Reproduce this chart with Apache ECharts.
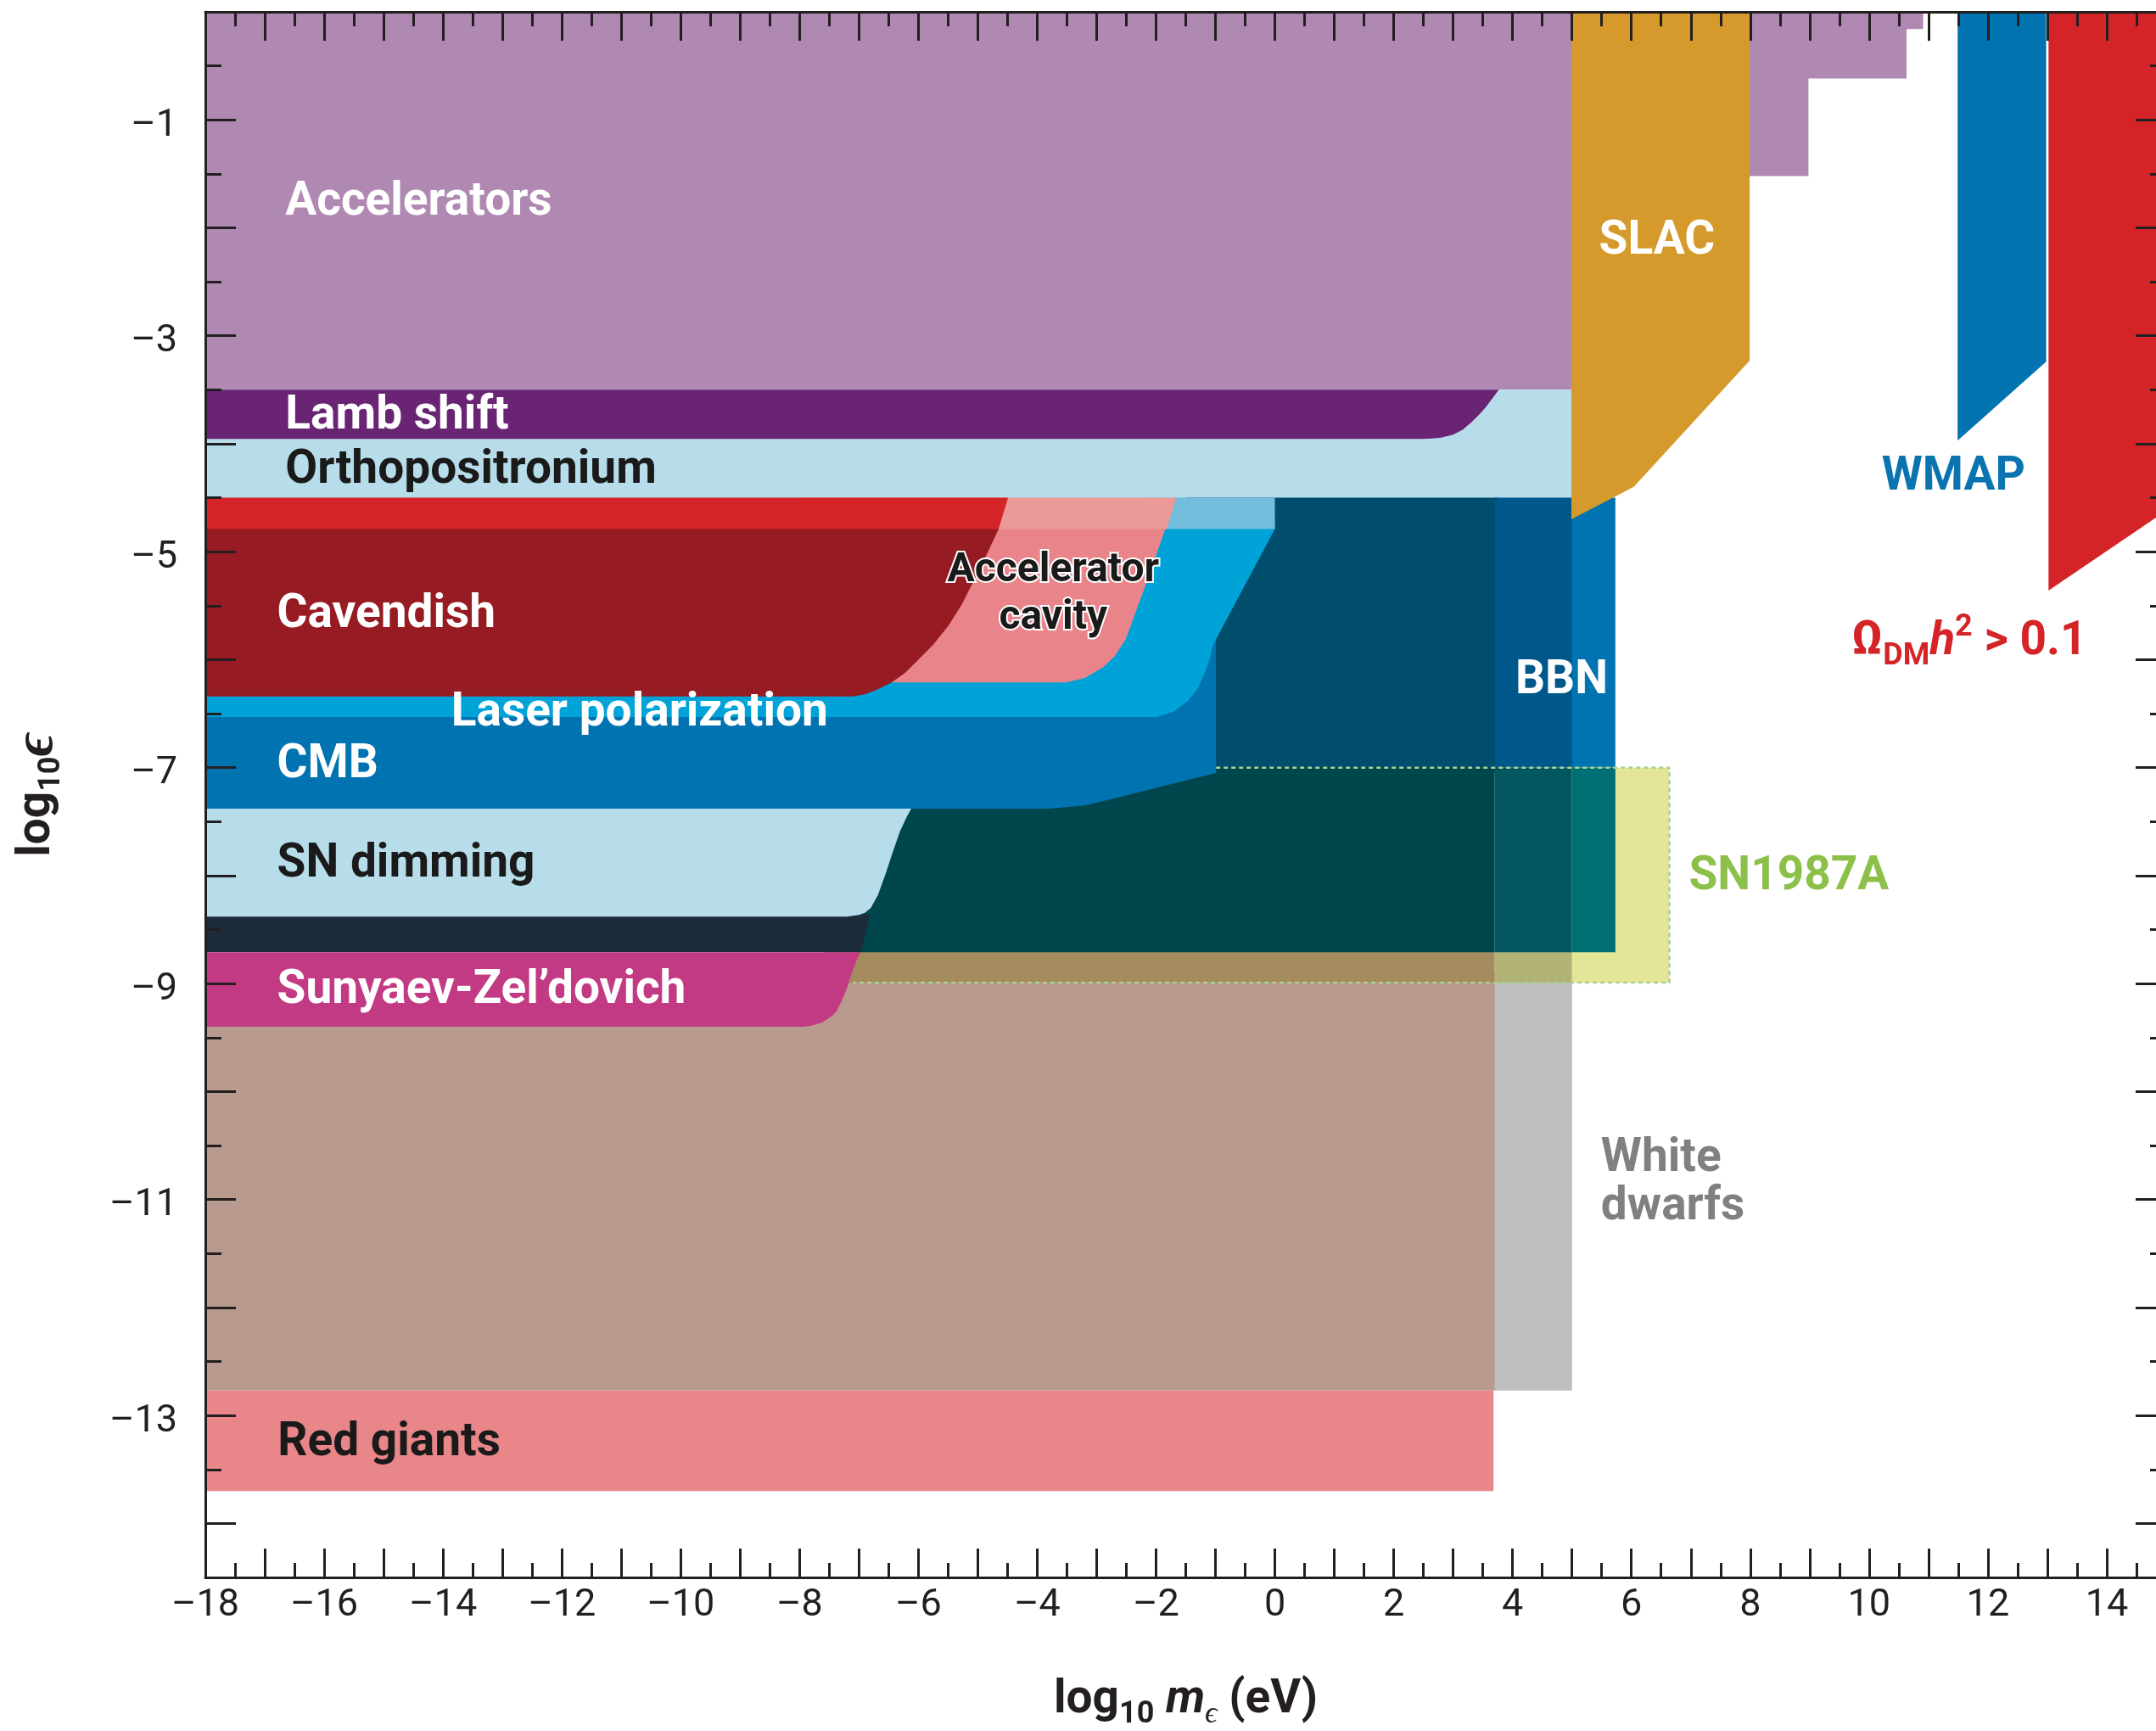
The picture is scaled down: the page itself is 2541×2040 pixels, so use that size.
<!DOCTYPE html>
<html>
<head>
<meta charset="utf-8">
<title>Millicharged particle constraints</title>
<script src="https://cdn.jsdelivr.net/npm/echarts@6/dist/echarts.min.js"></script>
<style>
  html, body { margin: 0; padding: 0; background: #ffffff; }
  #chart { width: 2541px; height: 2040px; }
</style>
</head>
<body>
<div id="chart"></div>
<script>
// Excluded regions in the (log10 m_eps [eV], log10 eps) plane, each as polygon vertices.
const accelerators = [[-18, 0], [10.91, 0], [10.91, -0.16], [10.63, -0.16], [10.63, -0.617], [8.98, -0.617], [8.98, -1.52], [7.9, -1.52], [7.9, -3.1], [5.3, -3.1], [5.3, -3.5], [-18, -3.5]];
const orthopositronium = [[-18, -3.5], [5.0, -3.5], [5.0, -4.52], [-18, -4.52]];
const lambShift = [[-18, -3.5], [3.77, -3.5], [3.66, -3.58], [3.55, -3.66], [3.44, -3.73], [3.31, -3.80], [3.16, -3.87], [3.0, -3.915], [2.8, -3.943], [2.6, -3.953], [2.42, -3.955], [-18, -3.955]];
const bbnDeep = [[-1.5, -4.5], [3.75, -4.5], [3.75, -7.05], [-1.5, -7.05]];
const bbnMid = [[3.7, -4.5], [5.05, -4.5], [5.05, -7.0], [3.7, -7.0]];
const bbnEdge = [[5.0, -4.5], [5.73, -4.5], [5.73, -7.0], [5.0, -7.0]];
const sn1987aEdge = [[5.0, -7.0], [6.64, -7.0], [6.64, -8.99], [5.0, -8.99]];
const sn1987aBox = [[-0.99, -7.0], [6.64, -7.0], [6.64, -8.99], [-7.1, -8.99]];
const combinedStellar = [[-18, -8.9], [3.75, -8.9], [3.75, -12.77], [-18, -12.77]];
const whiteDwarfs = [[3.7, -8.99], [5.0, -8.99], [5.0, -12.77], [3.7, -12.77]];
const sn1987aOverStellar = [[-7.6, -8.7], [3.7, -8.7], [3.7, -8.99], [-7.6, -8.99]];
const sn1987aOverDwarfs = [[3.7, -8.7], [5.0, -8.7], [5.0, -8.99], [3.7, -8.99]];
const sn1987aOverCosmo = [[-7.3, -7.0], [3.7, -7.0], [3.7, -8.71], [-7.3, -8.71]];
const sn1987aOverBbn = [[3.7, -7.0], [5.0, -7.0], [5.0, -8.71], [3.7, -8.71]];
const sn1987aOverBbnEdge = [[5.0, -7.0], [5.73, -7.0], [5.73, -8.71], [5.0, -8.71]];
const redGiants = [[-18, -12.77], [3.68, -12.77], [3.68, -13.70], [-18, -13.70]];
const szOverlap = [[-18, -8.36], [-6.81, -8.36], [-6.96, -8.71], [-18, -8.71]];
const snDimming = [[-18, -7.36], [-6.10, -7.36], [-6.20, -7.46], [-6.31, -7.59], [-6.43, -7.78], [-6.55, -7.98], [-6.68, -8.18], [-6.80, -8.30], [-6.90, -8.345], [-7.00, -8.365], [-7.20, -8.38], [-18, -8.38]];
const sunyaevZeldovich = [[-18, -8.71], [-6.98, -8.71], [-7.05, -8.80], [-7.12, -8.90], [-7.20, -9.04], [-7.29, -9.16], [-7.37, -9.25], [-7.45, -9.30], [-7.62, -9.36], [-7.80, -9.39], [-7.94, -9.40], [-18, -9.40]];
const cmb = [[-18, -6.4], [-1.6, -6.4], [-1.6, -5.75], [-0.99, -5.75], [-0.99, -7.05], [-1.59, -7.13], [-2.1, -7.20], [-2.59, -7.27], [-3.2, -7.35], [-3.8, -7.38], [-18, -7.38]];
const laserPolarization = [[-18, -4.7], [0, -4.7], [0, -4.79], [-0.99, -5.81], [-1.04, -5.86], [-1.10, -6.00], [-1.18, -6.12], [-1.30, -6.27], [-1.46, -6.38], [-1.7, -6.48], [-1.99, -6.53], [-18, -6.53]];
const laserStrip = [[-2.2, -4.5], [0, -4.5], [0, -4.79], [-2.2, -4.79]];
const acceleratorCavity = [[-8, -4.75], [-1.82, -4.75], [-1.99, -5.02], [-2.23, -5.39], [-2.51, -5.81], [-2.70, -5.97], [-2.89, -6.07], [-3.2, -6.17], [-3.51, -6.21], [-8, -6.21]];
const cavityStrip = [[-8, -4.5], [-1.66, -4.5], [-1.82, -4.79], [-8, -4.79]];
const cavendish = [[-18, -4.78], [-4.64, -4.78], [-4.94, -5.13], [-5.27, -5.49], [-5.50, -5.69], [-5.75, -5.86], [-6.0, -6.00], [-6.22, -6.12], [-6.45, -6.21], [-6.70, -6.28], [-6.90, -6.32], [-7.1, -6.34], [-18, -6.34]];
const cavendishStrip = [[-18, -4.5], [-4.49, -4.5], [-4.65, -4.79], [-18, -4.79]];
const slac = [[4.99, 0], [7.99, 0], [7.99, -3.23], [6.04, -4.40], [4.99, -4.70]];
const wmap = [[11.49, 0], [12.98, 0], [12.98, -3.24], [11.49, -3.97]];
const relicDensity = [[13.02, 0], [15, 0], [15, -4.62], [13.02, -5.36]];

// Axis ticks and labels
const xMin = -18, xMax = 15, yMin = -14.5, yMax = 0;
const yMajorTicks = [-14, -13, -12, -11, -10, -9, -8, -7, -6, -5, -4, -3, -2, -1, 0];
const yMinorTicks = [-13.5, -12.5, -11.5, -10.5, -9.5, -8.5, -7.5, -6.5, -5.5, -4.5, -3.5, -2.5, -1.5, -0.5];
const yTickLabels = [-1, -3, -5, -7, -9, -11, -13];

// Region names with their anchor points (data coordinates)
const regionNames = ['Accelerators', 'Lamb shift', 'Orthopositronium', 'Cavendish', 'Accelerator\ncavity', 'Laser polarization', 'CMB', 'SN dimming', 'Sunyaev-Zel\u2019dovich', 'Red giants', 'BBN', 'SLAC', 'WMAP', 'SN1987A', 'White\ndwarfs', '{o|\u03A9}{d|DM}{h|h}{p|2}{t| > 0.1}'];
const nameX = [-16.66, -16.66, -16.66, -16.80, -3.73, -13.87, -16.80, -16.80, -16.80, -16.79, 4.04, 6.43, 11.42, 6.96, 5.48, 9.70];
const nameY = [-1.77, -3.75, -4.25, -5.59, -5.40, -6.50, -6.98, -7.90, -9.07, -13.26, -6.20, -2.13, -4.32, -8.02, -10.85, -5.84];

// Fill colours, drawn in this order (later layers on top)
const layers = [
  [accelerators, '#B089B3'],
  [orthopositronium, '#B7DCEA'],
  [lambShift, '#692473'],
  [bbnDeep, '#004D6C'],
  [bbnMid, '#00578A'],
  [bbnEdge, '#0073B1'],
  [sn1987aEdge, '#E3E597'],
  [combinedStellar, '#B89A8F'],
  [whiteDwarfs, '#BEBEBE'],
  [sn1987aOverStellar, '#A58B5E'],
  [sn1987aOverDwarfs, '#B1B276'],
  [sn1987aOverCosmo, '#00474D'],
  [sn1987aOverBbn, '#02585E'],
  [sn1987aOverBbnEdge, '#006F73'],
  [redGiants, '#E9868A'],
  [szOverlap, '#1C2C3B'],
  [snDimming, '#B7DCEA'],
  [sunyaevZeldovich, '#C33A84'],
  [cmb, '#0073B0'],
  [laserPolarization, '#00A3D8'],
  [laserStrip, '#72BCDC'],
  [acceleratorCavity, '#E9858A'],
  [cavityStrip, '#EC9A97'],
  [cavendish, '#961B23'],
  [cavendishStrip, '#D42428'],
  [slac, '#D59A2B'],
  [wmap, '#0073B0'],
  [relicDensity, '#D42428']
];

const ink = '#231F20';
const white = '#FFFFFF';
const black = '#1A1A1A';
const font = 'Roboto';
const dash = v => (v < 0 ? '\u2013' + Math.abs(v) : String(v));

const nameStyles = [
  { c: white }, { c: white }, { c: black }, { c: white },
  { c: black, center: true, size: 48, lh: 56, outline: true },
  { c: white }, { c: white }, { c: black }, { c: white }, { c: black },
  { c: white }, { c: white, center: true }, { c: '#0A74B0', center: true },
  { c: '#8CC04A' }, { c: '#808080', lh: 57 }, { c: '#D42428' }
];

const nameData = regionNames.map((t, i) => {
  const s = nameStyles[i];
  const size = s.size || 55;
  return {
    value: [nameX[i], nameY[i]],
    label: {
      show: true,
      position: s.center ? 'inside' : 'right',
      distance: 0,
      align: s.center ? 'center' : 'left',
      formatter: () => t,
      color: s.c,
      opacity: 1,
      fontFamily: font,
      fontWeight: 'bold',
      fontSize: size,
      lineHeight: s.lh || Math.round(size * 1.2),
      textBorderColor: s.outline ? '#FFFFFF' : 'transparent',
      textBorderWidth: s.outline ? 4 : 0,
      rich: {
        o: { fontFamily: font, fontWeight: 'bold', fontSize: 55, lineHeight: 70, color: s.c },
        d: { fontFamily: font, fontWeight: 'bold', fontSize: 36, lineHeight: 22, verticalAlign: 'bottom', color: s.c },
        h: { fontFamily: font, fontWeight: 'bold', fontStyle: 'italic', fontSize: 55, lineHeight: 70, color: s.c },
        p: { fontFamily: font, fontWeight: 'bold', fontSize: 36, lineHeight: 62, verticalAlign: 'top', color: s.c },
        t: { fontFamily: font, fontWeight: 'bold', fontSize: 55, lineHeight: 70, color: s.c }
      }
    }
  };
});

const tickLine = { color: ink, width: 3 };
const axisNameRich = {
  b: { fontFamily: font, fontWeight: 'bold', fontSize: 55, lineHeight: 70, color: ink },
  s: { fontFamily: font, fontWeight: 'bold', fontSize: 36, lineHeight: 22, verticalAlign: 'bottom', color: ink },
  i: { fontFamily: font, fontWeight: 'bold', fontStyle: 'italic', fontSize: 55, lineHeight: 70, color: ink },
  g: { fontFamily: font, fontWeight: 'bold', fontStyle: 'italic', fontSize: 66, lineHeight: 70, color: ink },
  e: { fontFamily: font, fontStyle: 'italic', fontSize: 36, lineHeight: 22, verticalAlign: 'bottom', color: ink }
};

function xAxisDef(pos, withLabels) {
  return {
    type: 'value', position: pos, min: xMin, max: xMax, interval: 1, z: 10,
    axisLine: { show: true, onZero: false, lineStyle: tickLine },
    axisTick: { show: true, inside: true, length: 34, lineStyle: tickLine },
    minorTick: { show: true, splitNumber: 2, length: 17, lineStyle: tickLine },
    splitLine: { show: false }, minorSplitLine: { show: false },
    axisLabel: withLabels ? {
      show: true, margin: 11, fontFamily: font, fontSize: 45, color: ink,
      formatter: v => (Math.abs(Math.round(v)) % 2 === 0 && Math.abs(v - Math.round(v)) < 1e-6 && v < 15 ? dash(v) : '')
    } : { show: false }
  };
}

function yAxisDef(pos, ticks, len, showLine, labels) {
  return {
    type: 'value', position: pos, min: yMin, max: yMax, z: 10,
    axisLine: { show: showLine, onZero: false, lineStyle: tickLine },
    axisTick: { show: true, inside: true, length: len, customValues: ticks, lineStyle: tickLine },
    splitLine: { show: false },
    axisLabel: labels ? {
      show: true, margin: 33, fontFamily: font, fontSize: 45, color: ink,
      verticalAlign: 'top', lineHeight: 15,
      customValues: labels, formatter: v => dash(v)
    } : { show: false }
  };
}

const xBottom = xAxisDef('bottom', true);
xBottom.name = '{b|log}{s|10}{i| m}{e|\u03F5}{b| (eV)}';
xBottom.nameLocation = 'middle';
xBottom.nameGap = 110;
xBottom.nameTextStyle = { rich: axisNameRich };

const yLeft = yAxisDef('left', yMajorTicks, 36, true, yTickLabels);
yLeft.name = '{b|log}{s|10}{g|\u03F5}';
yLeft.nameLocation = 'middle';
yLeft.nameRotate = 90;
yLeft.nameGap = 163;
yLeft.nameTextStyle = { rich: axisNameRich };

const option = {
  animation: false,
  backgroundColor: '#FFFFFF',
  textStyle: { fontFamily: font },
  grid: { left: 242, top: 14, width: 2311, height: 1845, containLabel: false, outerBoundsMode: 'none' },
  xAxis: [xBottom, xAxisDef('top', false)],
  yAxis: [
    yLeft,
    yAxisDef('left', yMinorTicks, 19, false, null),
    yAxisDef('right', yMajorTicks, 36, true, null),
    yAxisDef('right', yMinorTicks, 19, false, null)
  ],
  series: [
    {
      type: 'custom',
      coordinateSystem: 'cartesian2d',
      xAxisIndex: 0, yAxisIndex: 0,
      clip: true, silent: true, z: 2,
      data: layers.map((l, i) => [l[0][0][0], l[0][0][1], i]),
      renderItem: (params, api) => {
        const layer = layers[params.dataIndex];
        return {
          type: 'polygon',
          shape: { points: layer[0].map(p => api.coord(p)) },
          style: { fill: layer[1], stroke: null }
        };
      }
    },
    {
      type: 'line',
      xAxisIndex: 0, yAxisIndex: 0,
      data: sn1987aBox,
      symbol: 'none', silent: true, z: 3,
      lineStyle: { color: '#A9D08E', width: 2.5, type: [5, 4] }
    },
    {
      type: 'scatter',
      xAxisIndex: 0, yAxisIndex: 0,
      symbolSize: 1, silent: true, z: 5,
      itemStyle: { color: 'transparent', opacity: 1 },
      emphasis: { disabled: true },
      data: nameData
    }
  ]
};

const chart = echarts.init(document.getElementById('chart'), null, { renderer: 'canvas' });
chart.setOption(option);
</script>
</body>
</html>
